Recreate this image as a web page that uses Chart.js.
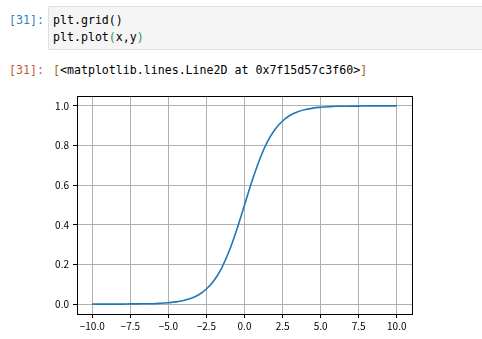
<!DOCTYPE html>
<html>
<head>
<meta charset="utf-8">
<script src="https://cdn.jsdelivr.net/npm/chart.js@4/dist/chart.umd.min.js"></script>
<style>
  html, body { margin: 0; padding: 0; background: #fff; width: 482px; height: 339px; overflow: hidden; position: relative; }
  .mono { font-family: "DejaVu Sans Mono", "Liberation Mono", monospace; font-size: 11.6px; white-space: pre; position: absolute; line-height: 17px; }
  .inprompt { color: #307fc1; left: 9px; top: 12px; }
  .outprompt { color: #bf5b3d; left: 9px; top: 62px; }
  .cell { position: absolute; left: 48px; top: 6px; width: 440px; height: 44px; background: #f5f5f5; border: 1px solid #e0e0e0; box-sizing: border-box; }
  .code { left: 53px; top: 12px; color: #000; }
  .out { left: 53px; top: 62px; color: #000; }
  .p { color: #000; }
  .g { color: #1f9a4a; }
  .b { color: #a0621e; }
  #wrap { position: absolute; left: 40px; top: 86px; width: 380px; height: 253px; }
</style>
</head>
<body>
<div class="cell"></div>
<div class="mono inprompt">[31]:</div>
<div class="mono code">plt.grid()
plt.plot<span class="g">(</span>x,y<span class="g">)</span></div>
<div class="mono outprompt">[31]:</div>
<div class="mono out"><span class="b">[</span>&lt;matplotlib.lines.Line2D at 0x7f15d57c3f60&gt;<span class="b">]</span></div>
<div id="wrap"><canvas id="c" width="380" height="253"></canvas></div>
<script>
// Values
const xValues = [-10, -9.5, -9, -8.5, -8, -7.5, -7, -6.5, -6, -5.5, -5, -4.5, -4, -3.5, -3, -2.5, -2, -1.5, -1, -0.5,
                 0, 0.5, 1, 1.5, 2, 2.5, 3, 3.5, 4, 4.5, 5, 5.5, 6, 6.5, 7, 7.5, 8, 8.5, 9, 9.5, 10];
const yValues = [0.000, 0.000, 0.000, 0.000, 0.000, 0.001, 0.001, 0.002, 0.002, 0.004, 0.007, 0.011, 0.018, 0.029, 0.047, 0.076, 0.119, 0.182, 0.269, 0.378,
                 0.500, 0.622, 0.731, 0.818, 0.881, 0.924, 0.953, 0.971, 0.982, 0.989, 0.993, 0.996, 0.998, 0.998, 0.999, 0.999, 1.000, 1.000, 1.000, 1.000, 1.000];
const xTicks = [-10, -7.5, -5, -2.5, 0, 2.5, 5, 7.5, 10];
const xTickLabels = ["\u221210.0", "\u22127.5", "\u22125.0", "\u22122.5", "0.0", "2.5", "5.0", "7.5", "10.0"];
const yTicks = [0, 0.2, 0.4, 0.6, 0.8, 1.0];
const yTickLabels = ["0.0", "0.2", "0.4", "0.6", "0.8", "1.0"];

const frame = {
  id: 'frame',
  afterDraw(chart) {
    const a = chart.chartArea, ctx = chart.ctx;
    ctx.save();
    ctx.strokeStyle = '#000';
    ctx.lineWidth = 1;
    ctx.strokeRect(Math.round(a.left) + 0.5, Math.round(a.top) + 0.5, Math.round(a.right - a.left), Math.round(a.bottom - a.top));
    ctx.restore();
  }
};

const tickFont = { family: '"Noto Sans CJK SC", "DejaVu Sans", sans-serif', size: 10 };

new Chart(document.getElementById('c'), {
  type: 'line',
  data: {
    datasets: [{
      data: xValues.map((x, i) => ({ x: x, y: yValues[i] })),
      borderColor: '#1f77b4',
      borderWidth: 1.6,
      pointRadius: 0,
      fill: false,
      cubicInterpolationMode: 'monotone'
    }]
  },
  options: {
    responsive: false,
    animation: false,
    devicePixelRatio: 1,
    layout: { padding: { top: 10, right: 8, left: 0, bottom: 0 } },
    plugins: { legend: { display: false }, tooltip: { enabled: false } },
    scales: {
      x: {
        type: 'linear', min: -11, max: 11,
        afterBuildTicks(s) { s.ticks = xTicks.map(v => ({ value: v })); },
        afterFit(s) { s.height = 25; },
        ticks: {
          color: '#000', font: tickFont, padding: 2, maxRotation: 0, autoSkip: false,
          callback(v) { const i = xTicks.indexOf(v); return i >= 0 ? xTickLabels[i] : ''; }
        },
        grid: { color: '#b0b0b0', lineWidth: 1, tickColor: '#000', tickLength: 4 },
        border: { display: false }
      },
      y: {
        type: 'linear', min: -0.05, max: 1.05,
        afterBuildTicks(s) { s.ticks = yTicks.map(v => ({ value: v })); },
        afterFit(s) { s.width = 37; },
        ticks: {
          color: '#000', font: tickFont, padding: 4, autoSkip: false,
          callback(v) { const i = yTicks.findIndex(t => Math.abs(t - v) < 1e-9); return i >= 0 ? yTickLabels[i] : ''; }
        },
        grid: { color: '#b0b0b0', lineWidth: 1, tickColor: '#000', tickLength: 4 },
        border: { display: false }
      }
    }
  },
  plugins: [frame]
});
</script>
</body>
</html>
